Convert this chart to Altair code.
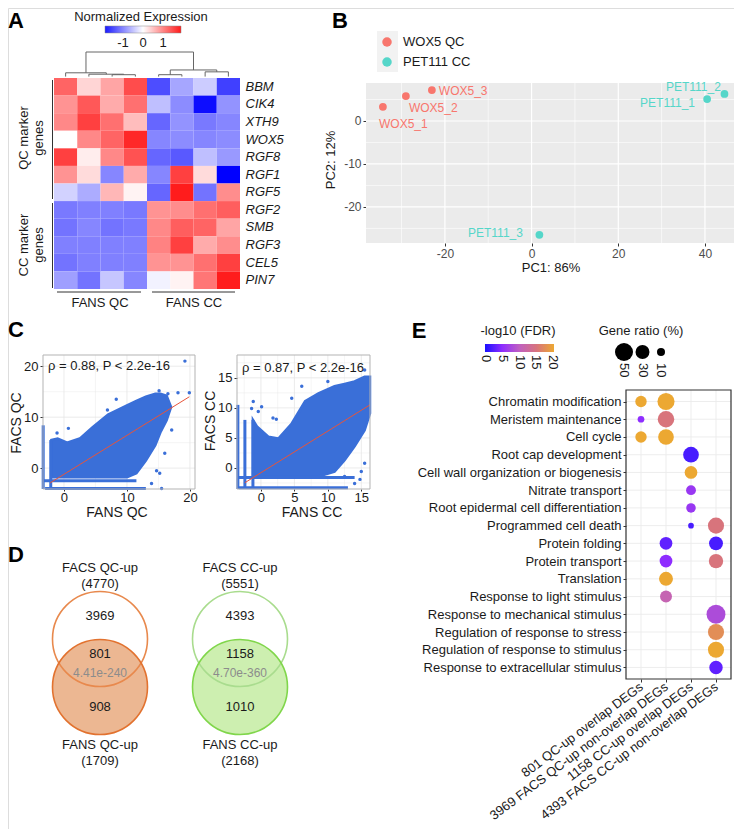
import altair as alt
import pandas as pd

W, H = 726, 821
FONT = "Liberation Sans"
INK = "#1a1a1a"


def px(v):
    return v - 8


def py(v):
    return v - 8


# ---------------- DATA ----------------
# Panel A: heatmap
genes = ["BBM", "CIK4", "XTH9", "WOX5", "RGF8", "RGF1", "RGF5",
         "RGF2", "SMB", "RGF3", "CEL5", "PIN7"]
samples = ["QC1", "QC2", "QC3", "QC4", "CC1", "CC2", "CC3", "CC4"]
expr = [
    [1.3, 0.35, 0.75, 1.5, -1.4, -0.7, -0.4, -1.5],
    [0.9, 1.4, 0.7, 1.2, -0.5, -0.9, -1.9, -0.85],
    [1.0, 1.6, 1.2, 0.55, -1.2, -0.85, -1.05, -0.95],
    [0.0, 1.0, 1.3, 1.8, -0.95, -0.9, -0.95, -0.9],
    [1.6, 0.15, 1.0, 1.45, -1.2, -1.3, -0.5, -0.8],
    [0.9, 0.3, -0.95, 0.7, -0.95, 1.6, 0.3, -2.0],
    [-0.35, -0.65, 0.6, 0.1, -1.2, 1.9, -1.1, 0.95],
    [-1.05, -1.0, -1.0, -1.05, 0.9, 0.95, 1.2, 1.35],
    [-1.1, -0.95, -1.1, -1.05, 1.0, 1.35, 1.3, 0.75],
    [-1.0, -1.0, -1.0, -1.0, 1.05, 1.6, 0.7, 0.95],
    [-1.1, -1.0, -1.0, -1.0, 0.9, 0.9, 1.2, 1.6],
    [-0.75, -1.1, -0.45, -0.95, -0.1, 0.1, 1.15, 1.9],
]
# column dendrogram merges (child a, child b, merge height)
merge_a = ["c3", "c2", "c1", "c5", "c7", "m4", "m3"]
merge_b = ["c4", "m1", "m2", "c6", "c8", "m5", "m6"]
merge_h = [2.0, 2.5, 4.0, 2.0, 5.0, 7.0, 26.0]
legend_ticks_A = [-1, 0, 1]
legend_labels_A = ["-1", "0", "1"]

# Panel B: PCA
pca_names = ["WOX5_1", "WOX5_2", "WOX5_3", "PET111_1", "PET111_2", "PET111_3"]
pca_group = ["WOX5 QC", "WOX5 QC", "WOX5 QC", "PET111 CC", "PET111 CC", "PET111 CC"]
pc1 = [-34.3, -29.0, -23.0, 40.5, 44.5, 1.8]
pc2 = [3.3, 5.8, 7.2, 5.1, 6.3, -26.5]
lab_x = [-35.2, -28.3, -21.4, 37.7, 31.0, -2.0]
lab_y = [-0.7, 3.0, 7.0, 4.2, 7.9, -26.0]
lab_side = ["left", "left", "left", "right", "left", "right"]
groups_B = ["WOX5 QC", "PET111 CC"]
colors_B = ["#F8766D", "#55D6C9"]

# Panel C: scatter envelopes
cL_x = [-2.0, -1.0, 0.5, 2.5, 4.5, 7.0, 10.0, 11.5, 13.0, 14.5, 15.3, 16.3, 17.0]
cL_up = [5.5, 5.8, 5.0, 5.8, 8.0, 10.5, 12.3, 13.2, 14.0, 14.6, 14.6, 14.2, 12.0]
cL_lo = [-1.8, -1.8, -1.8, -1.8, -1.8, -1.8, -1.8, -1.0, 1.5, 4.5, 7.0, 9.4, 12.0]
oL_x = [19.2, 19.9, 18.1, 16.5, 15.1, 8.3, 6.9, 0.7, -1.1, 15.2, 14.7, 13.9, 17.1, 16.0, 15.5]
oL_y = [21.0, 14.8, 14.8, 14.6, 15.2, 13.5, 11.4, 7.8, 6.9, -1.0, -0.5, -3.0, 7.5, 2.9, -4.0]
hbL_y = [-2.5, -4.0]
hbL_x0 = [-3.33, -3.0]
hbL_x1 = [11.5, 13.0]
vbL_x = [-3.3, -2.1]
vbL_y0 = [-4.1, -4.1]
vbL_y1 = [8.4, 5.5]
regL_x = [-2.2, 19.9]
regL_y = [-2.9, 14.0]

cR_x = [-1.2, -0.6, 1.1, 2.6, 4.6, 6.6, 8.6, 11.0, 12.5, 14.0, 15.5, 16.3]
cR_up = [8.0, 6.9, 5.2, 4.9, 7.4, 11.1, 12.4, 13.6, 14.0, 14.4, 15.2, 15.2]
cR_lo = [-1.4, -1.4, -1.4, -1.4, -1.4, -1.4, -1.4, -0.6, 1.3, 3.6, 6.3, 9.1]
oR_x = [-1.15, -1.4, 0.1, -0.4, 1.8, 2.3, 4.6, 6.1, 10.0, 15.5, 15.8, 12.5, 14.0, 14.8, 15.5, 15.0]
oR_y = [11.05, 9.9, 10.2, 9.4, 8.3, 8.1, 11.6, 13.6, 14.4, 16.3, 15.0, -1.4, -2.6, -1.9, 0.8, -0.6]
hbR_y = [-1.6, -3.3]
hbR_x0 = [-3.58, -3.3]
hbR_x1 = [14.0, 13.0]
vbR_x = [-3.45, -2.4, -1.2]
vbR_y0 = [-3.5, -3.5, -3.5]
vbR_y1 = [10.5, 8.0, 8.0]
regR_x = [-2.4, 16.3]
regR_y = [-2.45, 10.5]

# Panel D: Venn
venn_groups = ["QC", "CC"]
facs_titles = ["FACS QC-up", "FACS CC-up"]
facs_totals = ["(4770)", "(5551)"]
fans_titles = ["FANS QC-up", "FANS CC-up"]
fans_totals = ["(1709)", "(2168)"]
facs_only = ["3969", "4393"]
overlap = ["801", "1158"]
fans_only = ["908", "1010"]
pvals = ["4.41e-240", "4.70e-360"]

# Panel E: GO dot plot
terms = ["Chromatin modification", "Meristem maintenance", "Cell cycle",
         "Root cap development", "Cell wall organization or biogenesis",
         "Nitrate transport", "Root epidermal cell differentiation",
         "Programmed cell death", "Protein folding", "Protein transport",
         "Translation", "Response to light stimulus",
         "Response to mechanical stimulus", "Regulation of response to stress",
         "Regulation of response to stimulus", "Response to extracellular stimulus"]
cols = ["801 QC-up overlap DEGs", "3969 FACS QC-up non-overlap DEGs",
        "1158 CC-up overlap DEGs", "4393 FACS CC-up non-overlap DEGs"]
dot_term = [0, 0, 1, 1, 2, 2, 3, 4, 5, 6, 7, 7, 8, 8, 9, 9, 10, 11, 12, 13, 14, 15]
dot_col = [0, 1, 0, 1, 0, 1, 2, 2, 2, 2, 2, 3, 1, 3, 1, 3, 1, 1, 3, 3, 3, 3]
dot_fdr = [20, 20, 5, 15, 20, 20, 2, 20, 6, 6, 2, 15, 3, 2, 5, 15, 20, 11, 8, 17.5, 20, 3]
dot_ratio = [20, 45, 7, 42, 20, 38, 38, 25, 15, 14, 5, 40, 25, 30, 25, 32, 30, 22, 55, 40, 40, 28]
fdr_ticks = [0, 5, 10, 15, 20]
ratio_keys = [50, 30, 10]
fdr_colors = ["#1a10ff", "#8e2dff", "#c060c0", "#d8747c", "#eca832"]

MINUS_FIX = "replace(datum.label, '\u2212', '-')"

# ---------------- helpers ----------------
layers = []


def txt(s, x, y, size=13, align="center", angle=0, color=INK, weight="normal",
        style="normal", baseline="middle"):
    kw = dict(align=align, baseline=baseline, fontSize=size, color=color,
              fontWeight=weight, font=FONT, fontStyle=style)
    if angle:
        kw["angle"] = angle
    return alt.Chart(pd.DataFrame({"t": [s]})).mark_text(**kw).encode(
        text="t:N", x=alt.value(px(x)), y=alt.value(py(y)))


def rule(x1, y1, x2, y2, color="#333", w=1.0):
    return alt.Chart(pd.DataFrame({"a": [0]})).mark_rule(color=color, strokeWidth=w).encode(
        x=alt.value(px(x1)), x2=alt.value(px(x2)), y=alt.value(py(y1)), y2=alt.value(py(y2)))


# panel letters
for L, x, y in [("A", 16, 21), ("B", 340, 21), ("C", 16, 330), ("D", 16, 555), ("E", 419, 331)]:
    layers.append(txt(L, x, y, size=22, weight="bold", color="#000"))

# ---------------- Panel A ----------------
hm = pd.DataFrame([{"gene": g, "sample": s, "z": v}
                   for g, row in zip(genes, expr) for s, v in zip(samples, row)])
layers.append(alt.Chart(hm).mark_rect().encode(
    x=alt.X("sample:N", scale=alt.Scale(domain=samples, range=[px(54), px(240)],
                                       paddingInner=0, paddingOuter=0), axis=None),
    y=alt.Y("gene:N", scale=alt.Scale(domain=genes, range=[py(78), py(289)],
                                     paddingInner=0, paddingOuter=0),
            axis=alt.Axis(orient="right", offset=px(240) - W, labelPadding=5, domain=False,
                          ticks=False, title=None, labelFontStyle="italic",
                          labelFontSize=13, labelColor=INK, labelFont=FONT)),
    color=alt.Color("z:Q", scale=alt.Scale(domain=[-2, 0, 2], interpolate="rgb",
                                           range=["#0000ff", "#ffffff", "#ff1010"]), legend=None),
))

# dendrogram
pos = {f"c{i}": float(i) for i in range(1, 9)}
hgt = {k: 0.0 for k in pos}
segs = []
for k, (a, b, h) in enumerate(zip(merge_a, merge_b, merge_h)):
    pa, pb = pos[a], pos[b]
    segs.append({"x": pa, "x2": pb, "y": h, "y2": h})
    segs.append({"x": pa, "x2": pa, "y": hgt[a], "y2": h})
    segs.append({"x": pb, "x2": pb, "y": hgt[b], "y2": h})
    pos[f"m{k+1}"] = (pa + pb) / 2
    hgt[f"m{k+1}"] = h
dx = alt.Scale(domain=[0.5, 8.5], range=[px(54), px(240)], nice=False, zero=False)
dy = alt.Scale(domain=[-1.5, 26], range=[py(78), py(52)], nice=False, zero=False)
layers.append(alt.Chart(pd.DataFrame(segs)).mark_rule(color="#666", strokeWidth=1).encode(
    x=alt.X("x:Q", scale=dx, axis=None), x2="x2:Q",
    y=alt.Y("y:Q", scale=dy, axis=None), y2="y2:Q"))

# heatmap legend
lgx = alt.Scale(domain=[-1.9, 1.9], range=[px(105), px(181)], nice=False, zero=False)
layers.append(alt.Chart(pd.DataFrame({"a": [-1.9], "b": [1.9]})).mark_rect(
    fill=alt.Gradient(gradient="linear", x1=0, x2=1, y1=0, y2=0,
                      stops=[alt.GradientStop(offset=0, color="#1a1aff"),
                             alt.GradientStop(offset=0.5, color="#ffffff"),
                             alt.GradientStop(offset=1, color="#ff1a1a")]),
    stroke="#888", strokeWidth=0.5).encode(
    x=alt.X("a:Q", scale=lgx, axis=None), x2="b:Q",
    y=alt.value(py(26)), y2=alt.value(py(33))))
layers.append(alt.Chart(pd.DataFrame({"v": legend_ticks_A, "t": legend_labels_A})).mark_text(
    fontSize=13, font=FONT, color=INK).encode(
    x=alt.X("v:Q", scale=lgx, axis=None), y=alt.value(py(43)), text="t:N"))
layers.append(txt("Normalized Expression", 141, 17))

# group brackets
layers.append(rule(52.5, 80, 52.5, 199))
layers.append(rule(52.5, 203, 52.5, 288))
layers.append(rule(57, 292, 141, 292))
layers.append(rule(152, 292, 235, 292))
layers.append(txt("FANS QC", 100, 303))
layers.append(txt("FANS CC", 194, 303))
layers.append(txt("QC marker", 24, 138, angle=270))
layers.append(txt("genes", 39, 138, angle=270))
layers.append(txt("CC marker", 24, 245, angle=270))
layers.append(txt("genes", 39, 245, angle=270))

# ---------------- Panel B ----------------
bx = alt.Scale(domain=[-38.2, 46.7], range=[px(366), px(734)], nice=False, zero=False)
by = alt.Scale(domain=[-28.4, 8.84], range=[py(243), py(83)], nice=False, zero=False)
layers.append(alt.Chart(pd.DataFrame({"x0": [-38.2], "x1": [46.7], "y0": [-28.4], "y1": [8.84]}))
              .mark_rect(color="#EBEBEB").encode(
    x=alt.X("x0:Q", scale=bx, axis=None), x2="x1:Q",
    y=alt.Y("y0:Q", scale=by, axis=None), y2="y1:Q"))
for vals, w in [([-30, -10, 10, 30], 0.6), ([-20, 0, 20, 40], 1.2)]:
    layers.append(alt.Chart(pd.DataFrame({"v": vals})).mark_rule(color="white", strokeWidth=w).encode(
        x=alt.X("v:Q", scale=bx, axis=None), y=alt.value(py(83)), y2=alt.value(py(243))))
for vals, w in [([-25, -15, -5, 5], 0.6), ([-20, -10, 0], 1.2)]:
    layers.append(alt.Chart(pd.DataFrame({"v": vals})).mark_rule(color="white", strokeWidth=w).encode(
        y=alt.Y("v:Q", scale=by, axis=None), x=alt.value(px(366)), x2=alt.value(W)))
pca = pd.DataFrame({"name": pca_names, "group": pca_group, "pc1": pc1, "pc2": pc2,
                    "lx": lab_x, "ly": lab_y, "side": lab_side})
cB = alt.Scale(domain=groups_B, range=colors_B)
layers.append(alt.Chart(pca).mark_circle(size=60, opacity=1).encode(
    x=alt.X("pc1:Q", scale=bx, axis=alt.Axis(
        orient="bottom", offset=py(243) - H, values=[-20, 0, 20, 40], domain=False,
        tickColor="#333", tickSize=3, labelColor="#4d4d4d", labelFontSize=12, title=None,
        labelFont=FONT, labelPadding=2, labelExpr=MINUS_FIX)),
    y=alt.Y("pc2:Q", scale=by, axis=alt.Axis(
        orient="left", offset=-px(366), values=[-20, -10, 0], domain=False,
        tickColor="#333", tickSize=3, labelColor="#4d4d4d", labelFontSize=12, title=None,
        labelFont=FONT, labelPadding=2, labelExpr=MINUS_FIX)),
    color=alt.Color("group:N", scale=cB, legend=None)))
for side in ["left", "right"]:
    layers.append(alt.Chart(pca[pca.side == side]).mark_text(
        align=side, fontSize=12, font=FONT).encode(
        x=alt.X("lx:Q", scale=bx, axis=None), y=alt.Y("ly:Q", scale=by, axis=None),
        text="name:N", color=alt.Color("group:N", scale=cB, legend=None)))
layers.append(txt("PC1: 86%", 551, 268))
layers.append(txt("PC2: 12%", 331, 160, angle=270))
# B legend
layers.append(alt.Chart(pd.DataFrame({"a": [0]})).mark_rect(color="#F2F2F2").encode(
    x=alt.value(px(377)), x2=alt.value(px(398)), y=alt.value(py(31)), y2=alt.value(py(72))))
lgy = alt.Scale(type="point", domain=groups_B, range=[py(42), py(62)], padding=0)
layers.append(alt.Chart(pd.DataFrame({"g": groups_B})).mark_circle(size=90, opacity=1).encode(
    x=alt.value(px(387)), y=alt.Y("g:N", scale=lgy, axis=None),
    color=alt.Color("g:N", scale=cB, legend=None)))
layers.append(alt.Chart(pd.DataFrame({"g": groups_B})).mark_text(
    align="left", fontSize=13, font=FONT, color=INK).encode(
    x=alt.value(px(403)), y=alt.Y("g:N", scale=lgy, axis=None), text="g:N"))

# ---------------- Panel C ----------------
BLUE = "#3A6FD8"


def scatter_panel(xd, yd, xr, yr, xt, yt, cx, cu, cl, ox, oy, hy, hx0, hx1, vx, vy0, vy1,
                  rx, ry, label, lx, ly):
    sx = alt.Scale(domain=xd, range=[px(xr[0]), px(xr[1])], nice=False, zero=False)
    sy = alt.Scale(domain=yd, range=[py(yr[1]), py(yr[0])], nice=False, zero=False)
    out = []
    stepx = xt[1] - xt[0]
    stepy = yt[1] - yt[0]
    minx = [v + stepx / 2 for v in [xt[0] - stepx] + xt if xd[0] < v + stepx / 2 < xd[1]]
    miny = [v + stepy / 2 for v in [yt[0] - stepy] + yt if yd[0] < v + stepy / 2 < yd[1]]
    for vals, w in [(minx, 0.4), (xt, 0.8)]:
        out.append(alt.Chart(pd.DataFrame({"v": vals})).mark_rule(color="#E6E6E6", strokeWidth=w).encode(
            x=alt.X("v:Q", scale=sx, axis=None), y=alt.value(py(yr[0])), y2=alt.value(py(yr[1]))))
    for vals, w in [(miny, 0.4), (yt, 0.8)]:
        out.append(alt.Chart(pd.DataFrame({"v": vals})).mark_rule(color="#E6E6E6", strokeWidth=w).encode(
            y=alt.Y("v:Q", scale=sy, axis=None), x=alt.value(px(xr[0])), x2=alt.value(px(xr[1]))))
    out.append(alt.Chart(pd.DataFrame({"x": cx, "up": cu, "lo": cl})).mark_area(
        color=BLUE, stroke=BLUE, strokeWidth=2.5, opacity=1).encode(
        x=alt.X("x:Q", scale=sx, axis=alt.Axis(
            orient="bottom", offset=py(yr[1]) - H, values=xt, domain=False, tickColor="#333",
            tickSize=2, labelColor=INK, labelFontSize=13, title=None, labelFont=FONT, labelPadding=0)),
        y=alt.Y("up:Q", scale=sy, axis=alt.Axis(
            orient="left", offset=-px(xr[0]), values=yt, domain=False, tickColor="#333",
            tickSize=3, labelColor=INK, labelFontSize=13, title=None, labelFont=FONT, labelPadding=2)),
        y2="lo:Q"))
    out.append(alt.Chart(pd.DataFrame({"y": hy, "x0": hx0, "x1": hx1})).mark_rule(
        color=BLUE, strokeWidth=3).encode(
        y=alt.Y("y:Q", scale=sy, axis=None), x=alt.X("x0:Q", scale=sx, axis=None), x2="x1:Q"))
    out.append(alt.Chart(pd.DataFrame({"x": vx, "y0": vy0, "y1": vy1})).mark_rule(
        color=BLUE, strokeWidth=3).encode(
        x=alt.X("x:Q", scale=sx, axis=None), y=alt.Y("y0:Q", scale=sy, axis=None), y2="y1:Q"))
    out.append(alt.Chart(pd.DataFrame({"x": ox, "y": oy})).mark_circle(
        color=BLUE, size=12, opacity=1).encode(
        x=alt.X("x:Q", scale=sx, axis=None), y=alt.Y("y:Q", scale=sy, axis=None)))
    out.append(alt.Chart(pd.DataFrame({"x": rx, "y": ry})).mark_line(
        color="#E8543A", strokeWidth=1).encode(
        x=alt.X("x:Q", scale=sx, axis=None), y=alt.Y("y:Q", scale=sy, axis=None)))
    out.append(alt.Chart(pd.DataFrame({"x0": [xd[0]], "x1": [xd[1]], "y0": [yd[0]], "y1": [yd[1]]}))
               .mark_rect(fillOpacity=0, stroke="#B3B3B3", strokeWidth=1).encode(
        x=alt.X("x0:Q", scale=sx, axis=None), x2="x1:Q",
        y=alt.Y("y0:Q", scale=sy, axis=None), y2="y1:Q"))
    out.append(txt(label, lx, ly, align="left"))
    return out


layers += scatter_panel([-3.33, 20.8], [-4.1, 22.2], (43, 195), (355, 489), [0, 10, 20], [0, 10, 20],
                        cL_x, cL_up, cL_lo, oL_x, oL_y, hbL_y, hbL_x0, hbL_x1, vbL_x, vbL_y0, vbL_y1,
                        regL_x, regL_y, "ρ = 0.88, P < 2.2e-16", 48, 366)
layers += scatter_panel([-3.58, 16.3], [-3.5, 18.8], (237, 370), (355, 489), [0, 5, 10, 15], [0, 5, 10, 15],
                        cR_x, cR_up, cR_lo, oR_x, oR_y, hbR_y, hbR_x0, hbR_x1, vbR_x, vbR_y0, vbR_y1,
                        regR_x, regR_y, "ρ = 0.87, P < 2.2e-16", 242, 368)
layers.append(txt("FACS QC", 17, 423, size=14, angle=270))
layers.append(txt("FANS QC", 117, 513, size=14))
layers.append(txt("FACS CC", 211, 421, size=14, angle=270))
layers.append(txt("FANS CC", 312, 513, size=14))

# ---------------- Panel D ----------------
vx = alt.Scale(type="point", domain=venn_groups, range=[px(100), px(240)], padding=0)
vy = alt.Scale(type="point", domain=["FACS", "FANS"], range=[py(639), py(687)], padding=0)
vdf = pd.DataFrame({"g": venn_groups})
VSIZE = 95 * 95
layers.append(alt.Chart(vdf.assign(s="FANS")).mark_circle(size=VSIZE, opacity=1).encode(
    x=alt.X("g:N", scale=vx, axis=None), y=alt.Y("s:N", scale=vy, axis=None),
    color=alt.Color("g:N", scale=alt.Scale(domain=venn_groups, range=["#ECB792", "#CDEFB0"]), legend=None)))
layers.append(alt.Chart(vdf.assign(s="FACS")).mark_point(size=VSIZE, shape="circle", filled=False,
                                                        strokeWidth=1.6, opacity=1).encode(
    x=alt.X("g:N", scale=vx, axis=None), y=alt.Y("s:N", scale=vy, axis=None),
    color=alt.Color("g:N", scale=alt.Scale(domain=venn_groups, range=["#E8894D", "#A9DC8E"]), legend=None)))
layers.append(alt.Chart(vdf.assign(s="FANS")).mark_point(size=VSIZE, shape="circle", filled=False,
                                                        strokeWidth=1.6, opacity=1).encode(
    x=alt.X("g:N", scale=vx, axis=None), y=alt.Y("s:N", scale=vy, axis=None),
    color=alt.Color("g:N", scale=alt.Scale(domain=venn_groups, range=["#E2722F", "#80D64B"]), legend=None)))
for texts, yy, col, sz in [(facs_titles, 568, INK, 13), (facs_totals, 584, INK, 13),
                           (facs_only, 616, INK, 13), (overlap, 654, INK, 13),
                           (pvals, 673, "#8c8c8c", 12), (fans_only, 707, INK, 13),
                           (fans_titles, 745, INK, 13), (fans_totals, 761, INK, 13)]:
    layers.append(alt.Chart(pd.DataFrame({"g": venn_groups, "t": texts})).mark_text(
        fontSize=sz, font=FONT, color=col).encode(
        x=alt.X("g:N", scale=vx, axis=None), y=alt.value(py(yy)), text="t:N"))

# ---------------- Panel E ----------------
xE = alt.Scale(type="point", domain=cols, range=[px(626), px(731)], padding=0.6)
yE = alt.Scale(type="point", domain=terms, range=[py(390), py(679)], padding=0.65)
cE = alt.Scale(domain=fdr_ticks, range=fdr_colors, interpolate="rgb")
sE = alt.Scale(domain=[0, 50], range=[0, 324], zero=True, nice=False)
layers.append(alt.Chart(pd.DataFrame({"c": cols})).mark_rule(color="#EBEBEB", strokeWidth=0.9).encode(
    x=alt.X("c:N", scale=xE, axis=None), y=alt.value(py(390)), y2=alt.value(py(679))))
layers.append(alt.Chart(pd.DataFrame({"t": terms})).mark_rule(color="#EBEBEB", strokeWidth=0.9).encode(
    y=alt.Y("t:N", scale=yE, axis=None), x=alt.value(px(626)), x2=alt.value(px(731))))
dots = pd.DataFrame({"term": [terms[i] for i in dot_term], "col": [cols[j] for j in dot_col],
                     "fdr": dot_fdr, "ratio": dot_ratio})
layers.append(alt.Chart(dots).mark_circle(opacity=1).encode(
    x=alt.X("col:N", scale=xE, axis=alt.Axis(
        orient="bottom", offset=py(679) - H, labelAngle=323, labelAlign="right",
        labelBaseline="middle", domain=False, tickColor="#333", tickSize=3, labelPadding=3,
        labelColor=INK, labelFontSize=13, labelFont=FONT, title=None, labelLimit=300)),
    y=alt.Y("term:N", scale=yE, axis=alt.Axis(
        orient="left", offset=-px(626), domain=False, tickColor="#333", tickSize=3,
        labelPadding=2, labelColor=INK, labelFontSize=13, labelFont=FONT, title=None, labelLimit=300)),
    color=alt.Color("fdr:Q", scale=cE, legend=None),
    size=alt.Size("ratio:Q", scale=sE, legend=None)))
layers.append(alt.Chart(pd.DataFrame({"a": [0]})).mark_rect(
    fillOpacity=0, stroke="#333", strokeWidth=1.2).encode(
    x=alt.value(px(626)), x2=alt.value(px(731)), y=alt.value(py(390)), y2=alt.value(py(679))))

# E legends
gx = alt.Scale(domain=[0, 20], range=[px(486), px(553)], nice=False, zero=False)
layers.append(alt.Chart(pd.DataFrame({"a": [-0.3], "b": [20.3]})).mark_rect(
    fill=alt.Gradient(gradient="linear", x1=0, x2=1, y1=0, y2=0,
                      stops=[alt.GradientStop(offset=i / 4, color=c) for i, c in enumerate(fdr_colors)])).encode(
    x=alt.X("a:Q", scale=gx, axis=None), x2="b:Q", y=alt.value(py(344)), y2=alt.value(py(352))))
layers.append(alt.Chart(pd.DataFrame({"v": fdr_ticks})).mark_text(
    angle=90, align="left", baseline="middle", fontSize=13, font=FONT, color=INK).encode(
    x=alt.X("v:Q", scale=gx, axis=None), y=alt.value(py(355)), text="v:Q"))
layers.append(txt("-log10 (FDR)", 518, 331))
kx = alt.Scale(type="point", domain=[str(v) for v in ratio_keys], range=[px(624), px(661)], padding=0)
kdf = pd.DataFrame({"k": [str(v) for v in ratio_keys], "v": ratio_keys})
layers.append(alt.Chart(kdf).mark_circle(color="#000", opacity=1).encode(
    x=alt.X("k:N", scale=kx, axis=None), y=alt.value(py(352)),
    size=alt.Size("v:Q", scale=sE, legend=None)))
layers.append(alt.Chart(kdf).mark_text(
    angle=90, align="left", baseline="middle", fontSize=13, font=FONT, color=INK).encode(
    x=alt.X("k:N", scale=kx, axis=None), y=alt.value(py(363)), text="k:N"))
layers.append(txt("Gene ratio (%)", 641, 331))

chart = alt.layer(*layers).resolve_scale(
    x="independent", y="independent", color="independent", size="independent"
).properties(
    width=W, height=H, autosize=alt.AutoSizeParams(type="none"), padding=0
).configure_view(stroke=None).configure(font=FONT).configure_axis(grid=False)

chart.save("out.html", embed_options={"renderer": "svg", "actions": False})
